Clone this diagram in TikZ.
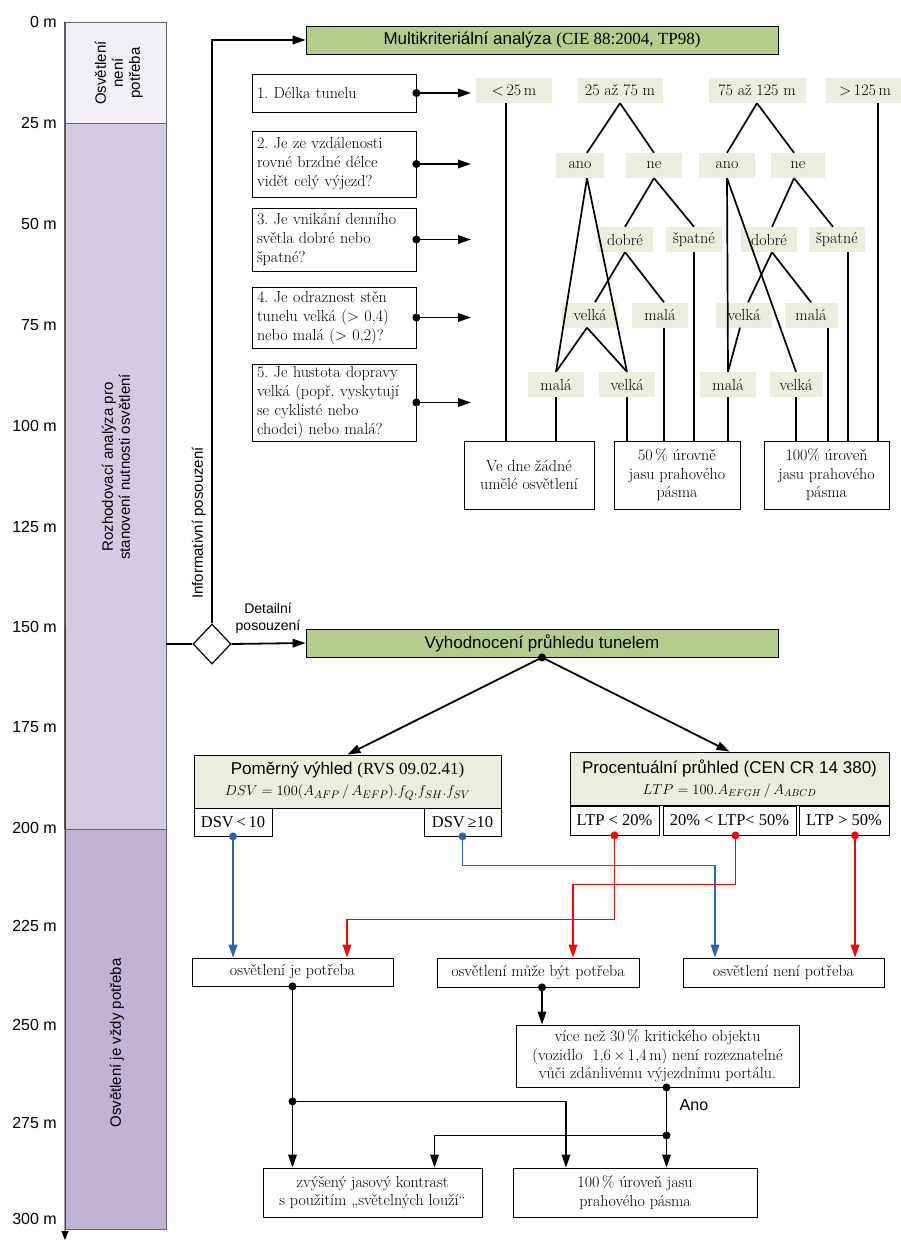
\documentclass[tikz,border=0pt]{standalone}
\usepackage{fontspec}
\setsansfont{Liberation Sans}
\newfontfamily\tmsfont{Liberation Serif}
\usetikzlibrary{arrows.meta,shapes.geometric,calc}

\definecolor{hdrgreen}{RGB}{181,204,140}
\definecolor{lblgreen}{RGB}{235,238,222}
\definecolor{barA}{RGB}{241,239,245}
\definecolor{barB}{RGB}{211,203,225}
\definecolor{barC}{RGB}{192,178,211}
\definecolor{dsvblue}{RGB}{46,99,170}
\definecolor{ltpred}{RGB}{255,0,0}

\begin{document}
\begin{tikzpicture}[x=1pt, y=-1pt,
  ln/.style={line width=1.7pt},
  arr/.style={line width=1.8pt, -{Triangle[length=13pt,width=8.5pt]}},
  bl/.style={draw=dsvblue, line width=1.6pt, -{Triangle[length=13pt,width=8.5pt]}},
  rd/.style={draw=ltpred, line width=1.6pt, -{Triangle[length=13pt,width=8.5pt]}},
  dot/.style={circle, fill, inner sep=0, minimum size=8pt},
  tick/.style={anchor=east, inner sep=0, font=\sffamily\fontsize{16}{19}\selectfont},
  barsec/.style={draw=black!60, line width=0.6pt, minimum width=101, inner sep=0},
  bartext/.style={rotate=90, align=center, inner sep=0, font=\sffamily\fontsize{15}{17}\selectfont},
  hdr/.style={draw, line width=0.8pt, fill=hdrgreen, minimum width=472, minimum height=28, inner sep=0, font=\sffamily\fontsize{17}{20}\selectfont},
  qbox/.style={draw, line width=0.8pt, text width=154, inner xsep=5, inner ysep=0, align=left, font=\fontsize{16}{19}\selectfont},
  lbl/.style={fill=lblgreen, minimum width=56, minimum height=25, inner sep=0, font=\fontsize{16}{18}\selectfont},
  res/.style={draw, line width=0.8pt, align=center, inner sep=0, font=\fontsize{16}{18.5}\selectfont},
  frm/.style={draw, line width=0.8pt, fill=lblgreen, minimum height=53, inner sep=0, align=center, font=\sffamily\fontsize{17}{21}\selectfont},
  cnd/.style={draw, line width=0.8pt, inner sep=0, font=\tmsfont\fontsize{16.5}{18}\selectfont},
  lab/.style={inner sep=0, font=\sffamily\fontsize{15}{17}\selectfont},
]
\useasboundingbox (0,0) rectangle (901,1241);

\node[barsec, fill=barA, minimum height=101] (bar1) at (115.5,72.5) {};
\node[barsec, fill=barB, minimum height=706] (bar2) at (115.5,476) {};
\node[barsec, fill=barC, minimum height=400] (bar3) at (115.5,1029) {};
\coordinate (axend) at (65,1240);
\draw[line width=0.8pt, -{Triangle[length=9pt,width=7pt]}] (bar1.north west) -- (axend);
\foreach \m/\y in {0/22,25/123,50/224,75/325,100/426,125/527,150/627,175/727,200/828,225/926,250/1025,275/1123,300/1219}
  \node[tick] (t\m) at (57,\y) {\m~m};
\node[bartext] (bt1) at (119,73) {Osvětlení\\není\\potřeba};
\node[bartext] (bt2) at (116,467) {Rozhodovací analýza pro\\stanovení nutnosti osvětlení};
\node[bartext] (bt3) at (117,1043) {Osvětlení je vždy potřeba};

\node[hdr] (multi) at (542,40) {Multikriteriální analýza {\tmsfont(CIE 88:2004, TP98)}};
\node[hdr] (vyh) at (542,643) {Vyhodnocení průhledu tunelem};
\node[diamond, draw, line width=1.2pt, minimum width=38, minimum height=40, inner sep=0] (dec) at (212,644) {};
\draw[ln] (bar2.east |- dec.west) -- (dec.west);
\draw[arr] (dec.north) |- (multi.west);
\draw[arr] (dec.east) -- (vyh.west);
\node[lab, rotate=90] (info) at (199,523) {Informativní posouzení};
\node[lab, align=center, font=\sffamily\fontsize{14}{17}\selectfont] (detail) at (268,618) {Detailní\\posouzení};

\node[qbox, minimum height=38] (q1) at (334,93) {1.\ Délka tunelu};
\node[qbox, minimum height=66] (q2) at (334,164) {2.\ Je ze vzdálenosti\\rovné brzdné délce\\vidět celý výjezd?};
\node[qbox, minimum height=63] (q3) at (334,239.5) {3.\ Je vnikání denního\\světla dobré nebo\\špatné?};
\node[qbox, minimum height=61] (q4) at (334,317.5) {4.\ Je odraznost stěn\\tunelu velká (> 0,4)\\nebo malá (> 0,2)?};
\node[qbox, minimum height=77] (q5) at (334,402.5) {5.\ Je hustota dopravy\\velká (popř.\ vyskytují\\se cyklisté nebo\\chodci) nebo malá?};
\coordinate (qend) at (471,0);
\foreach \q in {1,...,5} {
  \draw[arr] (q\q.east) -- (q\q.east -| qend);
  \node[dot] at (q\q.east) {};
}

\node[lbl, minimum width=76] (lt25) at (514,90.5) {<\,25\,m};
\node[lbl, minimum width=85] (r25) at (620,90.5) {25 až 75 m};
\node[lbl, minimum width=97] (r75) at (757,90.5) {75 až 125 m};
\node[lbl, minimum width=78] (gt125) at (865,90.5) {>\,125\,m};
\node[lbl, minimum width=48] (ano1) at (580,165.5) {ano};
\node[lbl] (ne1) at (654,165.5) {ne};
\node[lbl] (ano2) at (727,165.5) {ano};
\node[lbl, minimum width=54] (ne2) at (798,165.5) {ne};
\node[lbl] (dob1) at (625,239.5) {dobré};
\node[lbl] (spa1) at (694,239.5) {špatné};
\node[lbl] (dob2) at (769,239.5) {dobré};
\node[lbl] (spa2) at (837,239.5) {špatné};
\node[lbl] (vel1) at (590,315) {velká};
\node[lbl] (mal1) at (660,315) {malá};
\node[lbl] (vel2) at (744,315) {velká};
\node[lbl, minimum width=53] (mal2) at (811,315) {malá};
\node[lbl] (mal3) at (556,384.5) {malá};
\node[lbl] (vel3) at (627,384.5) {velká};
\node[lbl] (mal4) at (728,384.5) {malá};
\node[lbl, minimum width=53] (vel4) at (796,384.5) {velká};
\node[res, minimum width=130, minimum height=68] (resA) at (529,475) {Ve dne žádné\\umělé osvětlení};
\node[res, minimum width=126, minimum height=68] (resB) at (677,475) {50\,\% úrovně\\jasu prahového\\pásma};
\node[res, minimum width=125, minimum height=68] (resC) at (826.5,475) {100\% úroveň\\jasu prahového\\pásma};

\draw[ln] (r25.south) -- ([xshift=7]ano1.north);
\draw[ln] (r25.south) -- (ne1.north);
\draw[ln] ([xshift=7]ano1.south) -- (mal3.north);
\draw[ln] ([xshift=7]ano1.south) -- (vel3.north);
\draw[ln] (ne1.south) -- (dob1.north);
\draw[ln] (ne1.south) -- (spa1.north);
\draw[ln] (dob1.south) -- ([xshift=5]vel1.north);
\draw[ln] (dob1.south) -- ([xshift=4]mal1.north);
\draw[ln] ([xshift=-3]vel1.south) -- (mal3.north);
\draw[ln] ([xshift=-3]vel1.south) -- (vel3.north);
\draw[ln] (r75.south) -- (ano2.north);
\draw[ln] (r75.south) -- ([xshift=-4]ne2.north);
\draw[ln] (ano2.south) -- (mal4.north);
\draw[ln] (ano2.south) -- (vel4.north);
\draw[ln] ([xshift=-4]ne2.south) -- ([xshift=3]dob2.north);
\draw[ln] ([xshift=-4]ne2.south) -- ([xshift=-4]spa2.north);
\draw[ln] ([xshift=3]dob2.south) -- ([xshift=4]vel2.north);
\draw[ln] ([xshift=3]dob2.south) -- (mal2.north);
\draw[ln] ([xshift=-4]vel2.south) -- (mal4.north);
\draw[ln] ([xshift=-8]lt25.south) -- ([xshift=-8]lt25.south |- resA.north);
\draw[ln] (mal3.south) -- (mal3.south |- resA.north);
\draw[ln] (vel3.south) -- (vel3.south |- resB.north);
\draw[ln] ([xshift=4]mal1.south) -- ([xshift=4]mal1.south |- resB.north);
\draw[ln] (spa1.south) -- (spa1.south |- resB.north);
\draw[ln] (mal4.south) -- (mal4.south |- resB.north);
\draw[ln] (vel4.south) -- (vel4.south |- resC.north);
\draw[ln] ([xshift=17]mal2.south) -- ([xshift=17]mal2.south |- resC.north);
\draw[ln] ([xshift=11]spa2.south) -- ([xshift=11]spa2.south |- resC.north);
\draw[ln] ([xshift=13]gt125.south) -- ([xshift=13]gt125.south |- resC.north);

\node[frm, minimum width=307] (pom) at (347.5,781.5) {Poměrný výhled {\tmsfont(RVS 09.02.41)}\\{\fontsize{15}{18}\selectfont $DSV=100(A_{AFP}\,/\,A_{EFP}).f_Q.f_{SH}.f_{SV}$}};
\node[frm, minimum width=319] (pro) at (729.5,778.5) {Procentuální průhled (CEN CR 14 380)\\{\fontsize{14}{18}\selectfont $LTP=100.A_{EFGH}\,/\,A_{ABCD}$}};
\draw[arr] (vyh.south) -- (pom.north);
\draw[arr] (vyh.south) -- (pro.north);
\node[dot] at (vyh.south) {};

\node[cnd, minimum width=78, minimum height=28] (dlt) at (233,822) {DSV\,<\,10};
\node[cnd, minimum width=77, minimum height=28] (dge) at (462.5,822) {DSV\,≥10};
\node[cnd, minimum width=89, minimum height=29] (llt) at (614.5,820.5) {LTP < 20\%};
\node[cnd, minimum width=133, minimum height=29] (lmid) at (729.5,820.5) {20\% < LTP< 50\%};
\node[cnd, minimum width=90, minimum height=29] (lgt) at (844,820.5) {LTP > 50\%};

\node[res, minimum width=201, minimum height=28] (rjp) at (292.5,972) {osvětlení je potřeba};
\node[res, minimum width=202, minimum height=29] (rmb) at (538,972.5) {osvětlení může být potřeba};
\node[res, minimum width=201, minimum height=29] (rnp) at (783.5,972.5) {osvětlení není potřeba};
\node[res, minimum width=283, minimum height=62] (vice) at (657.5,1056) {více než 30\,\% kritického objektu\\(vozidlo~ 1,6\,×\,1,4\,m) není rozeznatelné\\vůči zdánlivému výjezdnímu portálu.};
\node[res, minimum width=219, minimum height=49] (zvy) at (372.5,1192.5) {zvýšený jasový kontrast\\s použitím „světelných louží“};
\node[res, minimum width=244, minimum height=49] (sto) at (635,1192.5) {100\,\% úroveň jasu\\prahového pásma};

\draw[bl] (dlt.south) -- (dlt.south |- rjp.north);
\draw[bl] (dge.south) -- ++(0,29) -| ([xshift=-68.5]rnp.north);
\draw[rd] (llt.south) -- ++(0,84) -| ([xshift=54.5]rjp.north);
\draw[rd] ([xshift=6]lmid.south) -- ++(0,49) -| ([xshift=35]rmb.north);
\draw[rd] ([xshift=11]lgt.south) -- ([xshift=11]lgt.south |- rnp.north);
\node[dot, fill=dsvblue] at (dlt.south) {};
\node[dot, fill=dsvblue] at (dge.south) {};
\node[dot, fill=ltpred] at (llt.south) {};
\node[dot, fill=ltpred] at ([xshift=6]lmid.south) {};
\node[dot, fill=ltpred] at ([xshift=11]lgt.south) {};

\coordinate (j1) at ($(rjp.south)+(0,115)$);
\coordinate (j2) at ($([xshift=9]vice.south)+(0,48)$);
\draw[arr] (rjp.south) -- (rjp.south |- zvy.north);
\draw[arr] (j1) -| ([xshift=-69]sto.north);
\draw[arr] ([xshift=4]rmb.south) -- ([xshift=4]rmb.south |- vice.north);
\draw[arr] ([xshift=9]vice.south) -- ([xshift=9]vice.south |- sto.north);
\draw[arr] (j2) -| ([xshift=62]zvy.north);
\foreach \p in {rjp.south, j1, j2}
  \node[dot] at (\p) {};
\node[dot] at ([xshift=4]rmb.south) {};
\node[dot] at ([xshift=9]vice.south) {};
\node[lab, anchor=west, font=\sffamily\fontsize{16}{19}\selectfont] (ano) at ($(j2)+(13,-30)$) {Ano};
\end{tikzpicture}
\end{document}
